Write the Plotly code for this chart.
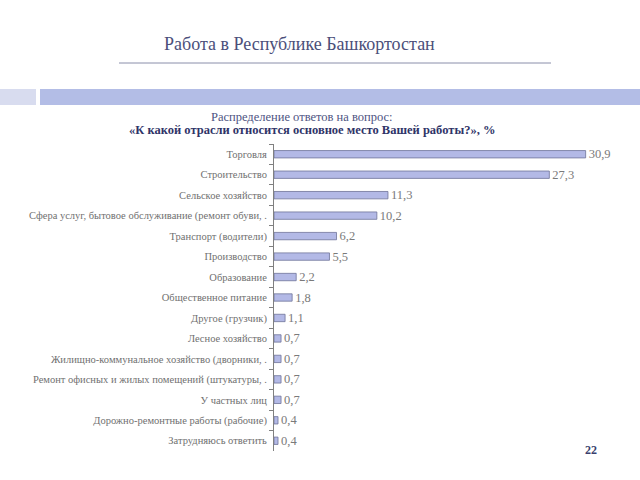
import plotly.graph_objects as go

categories = [
    "Торговля",
    "Строительство",
    "Сельское хозяйство",
    "Сфера услуг, бытовое обслуживание (ремонт обуви, .",
    "Транспорт (водители)",
    "Производство",
    "Образование",
    "Общественное питание",
    "Другое (грузчик)",
    "Лесное хозяйство",
    "Жилищно-коммунальное хозяйство (дворники, .",
    "Ремонт офисных и жилых помещений (штукатуры, .",
    "У частных лиц",
    "Дорожно-ремонтные работы (рабочие)",
    "Затрудняюсь ответить",
]
values = [30.9, 27.3, 11.3, 10.2, 6.2, 5.5, 2.2, 1.8, 1.1, 0.7, 0.7, 0.7, 0.7, 0.4, 0.4]
value_labels = ["30,9", "27,3", "11,3", "10,2", "6,2", "5,5", "2,2", "1,8", "1,1",
                "0,7", "0,7", "0,7", "0,7", "0,4", "0,4"]

title_text = "Работа в Республике Башкортостан"
subtitle_1 = "Распределение ответов на вопрос:"
subtitle_2 = "«К какой отрасли относится основное место Вашей работы?», %"
page_number = "22"

serif = "Liberation Serif"

L, R, T, B = 274, 13, 144, 29
PW, PH = 640 - L - R, 480 - T - B


def px(x):
    return (x - L) / PW


def py(y):
    return (480 - B - y) / PH


fig = go.Figure(go.Bar(
    x=values,
    y=categories,
    orientation="h",
    width=0.36,
    marker=dict(color="#b3b9e6", line=dict(color="#6f7399", width=0.8)),
    text=value_labels,
    textposition="outside",
    constraintext="none",
    textfont=dict(family=serif, size=12.5, color="#7a7a7a"),
    cliponaxis=False,
    hoverinfo="skip",
))

fig.update_layout(
    width=640, height=480,
    margin=dict(l=L, r=R, t=T, b=B),
    paper_bgcolor="white", plot_bgcolor="white",
    showlegend=False,
    font=dict(family=serif),
    xaxis=dict(range=[0, 35], visible=False, fixedrange=True),
    yaxis=dict(
        autorange="reversed", automargin=False,
        showline=True, linecolor="#808080", linewidth=1,
        ticks="outside", ticklen=4, tickcolor="#808080", tickson="boundaries",
        tickfont=dict(family=serif, size=10.5, color="#707070"),
        ticklabelstandoff=4,
        showgrid=False, zeroline=False, fixedrange=True,
    ),
    shapes=[
        dict(type="line", xref="paper", yref="paper", x0=px(119), x1=px(551),
             y0=py(63), y1=py(63), line=dict(color="#8a8eaa", width=1)),
        dict(type="rect", xref="paper", yref="paper", x0=px(0), x1=px(36),
             y0=py(105), y1=py(89), fillcolor="#d8dcef", line=dict(width=0), layer="below"),
        dict(type="rect", xref="paper", yref="paper", x0=px(40), x1=px(640),
             y0=py(105), y1=py(89), fillcolor="#b3bde6", line=dict(width=0), layer="below"),
    ],
    annotations=[
        dict(text=title_text, xref="paper", yref="paper", x=px(299), y=py(44),
             xanchor="center", yanchor="middle", showarrow=False,
             font=dict(family=serif, size=18, color="#4b4f7a")),
        dict(text=subtitle_1, xref="paper", yref="paper", x=px(302), y=py(117),
             xanchor="center", yanchor="middle", showarrow=False,
             font=dict(family=serif, size=12.5, color="#4e5482")),
        dict(text="<b>" + subtitle_2 + "</b>", xref="paper", yref="paper", x=px(312), y=py(130),
             xanchor="center", yanchor="middle", showarrow=False,
             font=dict(family=serif, size=12.5, color="#2f3468")),
        dict(text="<b>" + page_number + "</b>", xref="paper", yref="paper", x=px(591), y=py(450),
             xanchor="center", yanchor="middle", showarrow=False,
             font=dict(family=serif, size=12, color="#3a3f6e")),
    ],
)

fig.write_html(
    "out.html",
    config={"displayModeBar": False},
    post_script="document.body.style.margin='0';document.body.style.overflow='hidden';",
)
